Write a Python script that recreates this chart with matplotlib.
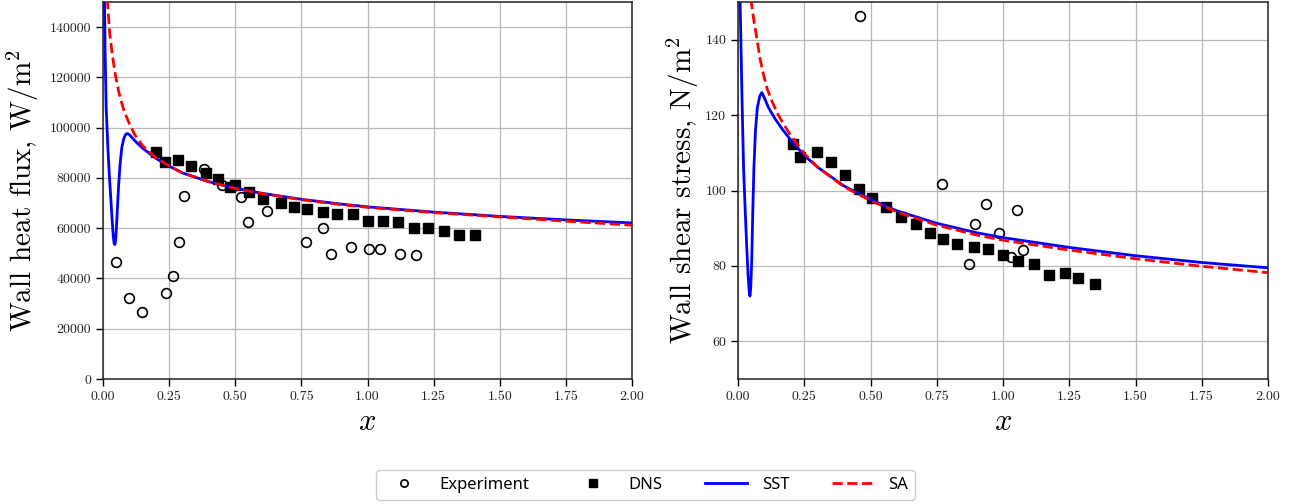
import matplotlib
matplotlib.use("Agg")
import matplotlib.pyplot as plt
from matplotlib.ticker import FixedLocator, FormatStrFormatter

plt.rcParams['font.family'] = 'serif'
plt.rcParams['font.serif'] = ['cmr10']
plt.rcParams['mathtext.fontset'] = 'cm'
plt.rcParams['axes.formatter.use_mathtext'] = True

# ---------------- Heat flux (left) ----------------
hf_exp_x = [0.048, 0.098, 0.147, 0.240, 0.263, 0.286, 0.307, 0.381, 0.450, 0.522,
            0.547, 0.619, 0.769, 0.830, 0.863, 0.936, 1.004, 1.047, 1.122, 1.185]
hf_exp_y = [46500, 32200, 26700, 34300, 40900, 54700, 73000, 83600, 77200, 72300,
            62500, 66900, 54400, 59900, 49900, 52700, 51800, 51800, 49700, 49500]

hf_dns_x = [0.200, 0.235, 0.283, 0.331, 0.388, 0.434, 0.480, 0.500, 0.552, 0.605,
            0.672, 0.721, 0.772, 0.830, 0.884, 0.945, 1.001, 1.059, 1.115, 1.175,
            1.230, 1.288, 1.346, 1.405]
hf_dns_y = [90500, 86500, 87200, 84700, 82000, 79600, 76500, 77000, 74400, 71800,
            69900, 68600, 67700, 66600, 65800, 65600, 62800, 62700, 62400, 60000,
            60000, 58700, 57300, 57300]

hf_sst_x = [0.0, 0.004, 0.008, 0.012, 0.018, 0.024, 0.030, 0.035, 0.039, 0.042,
            0.045, 0.048, 0.051, 0.055, 0.059, 0.065, 0.071, 0.078, 0.085, 0.092,
            0.100, 0.110, 0.125, 0.150, 0.200, 0.250, 0.300, 0.400, 0.500, 0.600,
            0.750, 0.900, 1.000, 1.250, 1.500, 1.750, 2.000]
hf_sst_y = [300000, 165000, 130000, 108000, 93000, 81000, 71000, 62500, 56500, 54000,
            53500, 55500, 60500, 69000, 77000, 86000, 92000, 95500, 97200, 97700,
            97200, 96000, 94300, 91800, 87800, 84700, 82000, 78500, 75900, 73900,
            71500, 69600, 68500, 66400, 64700, 63300, 62100]

hf_sa_x = [0.012, 0.017, 0.025, 0.034, 0.045, 0.060, 0.080, 0.100, 0.120, 0.150,
           0.200, 0.250, 0.300, 0.400, 0.500, 0.600, 0.750, 0.900, 1.000, 1.250,
           1.500, 1.750, 2.000]
hf_sa_y = [175000, 150000, 138000, 130000, 122000, 114000, 106500, 101500, 97200, 92800,
           88000, 84800, 82000, 78500, 75800, 73800, 71300, 69400, 68300, 66200,
           64500, 62800, 61200]

# ---------------- Shear stress (right) ----------------
ws_exp_x = [0.460, 0.771, 0.937, 1.051, 0.896, 0.984, 1.075, 1.031, 0.871]
ws_exp_y = [146.2, 101.6, 96.4, 94.8, 91.1, 88.7, 84.1, 82.4, 80.4]

ws_dns_x = [0.206, 0.235, 0.297, 0.352, 0.404, 0.458, 0.506, 0.558, 0.614, 0.670,
            0.726, 0.772, 0.828, 0.889, 0.944, 1.000, 1.057, 1.117, 1.174, 1.233,
            1.284, 1.348]
ws_dns_y = [112.3, 109.0, 110.3, 107.5, 104.0, 100.4, 98.1, 95.7, 93.1, 91.0,
            88.7, 87.1, 85.9, 85.0, 84.4, 83.0, 81.3, 80.6, 77.7, 78.0,
            76.9, 75.2]

ws_sst_x = [0.0, 0.004, 0.008, 0.015, 0.021, 0.027, 0.033, 0.038, 0.042, 0.045,
            0.048, 0.052, 0.056, 0.060, 0.066, 0.073, 0.082, 0.090, 0.100, 0.115,
            0.140, 0.170, 0.200, 0.250, 0.300, 0.400, 0.500, 0.600, 0.750, 0.900,
            1.000, 1.250, 1.500, 1.750, 2.000]
ws_sst_y = [250, 170, 150, 125, 106, 95, 85, 77.5, 73.5, 72.0,
            74.0, 82.0, 95.0, 106.0, 116.0, 122.0, 125.0, 126.0, 124.5, 122.0,
            119.0, 116.0, 113.3, 109.3, 106.2, 101.2, 97.6, 94.6, 91.3, 88.8,
            87.5, 84.9, 82.7, 80.9, 79.5]

ws_sa_x = [0.040, 0.050, 0.060, 0.071, 0.083, 0.096, 0.110, 0.128, 0.150, 0.172,
           0.200, 0.250, 0.300, 0.400, 0.500, 0.600, 0.750, 0.900, 1.000, 1.250,
           1.500, 1.750, 2.000]
ws_sa_y = [165, 150, 145, 140.4, 135, 130.8, 127, 123.7, 120.3, 117.6,
           114.5, 109.8, 106.2, 101.0, 97.3, 94.3, 90.8, 88.2, 86.8, 84.2,
           81.9, 79.9, 78.2]

x_ticks = [0.0, 0.25, 0.5, 0.75, 1.0, 1.25, 1.5, 1.75, 2.0]
hf_ticks = [0, 20000, 40000, 60000, 80000, 100000, 120000, 140000]
ws_ticks = [60, 80, 100, 120, 140]

fig = plt.figure(figsize=(12.97, 5.04), dpi=100)
axL = fig.add_axes([103 / 1297, 1 - 379 / 504, 529 / 1297, 377 / 504])
axR = fig.add_axes([738 / 1297, 1 - 379 / 504, 530 / 1297, 377 / 504])


def draw(ax, ex, ey, dx, dy, sx, sy, ax_x, ay, ylim, yticks, ylabel, pad):
    ax.plot(ex, ey, 'o', ms=7, mfc='none', mec='black', mew=1.2, ls='none',
            label='Experiment', zorder=3)
    ax.plot(dx, dy, 's', ms=7.5, color='black', ls='none', label='DNS', zorder=3)
    ax.plot(sx, sy, '-', color='blue', lw=2.0, label='SST', zorder=4)
    ax.plot(ax_x, ay, '--', color='red', lw=2.0, label='SA', zorder=5)
    ax.set_xlim(0, 2.0)
    ax.set_ylim(*ylim)
    ax.xaxis.set_major_locator(FixedLocator(x_ticks))
    ax.xaxis.set_major_formatter(FormatStrFormatter('%.2f'))
    ax.yaxis.set_major_locator(FixedLocator(yticks))
    ax.yaxis.set_major_formatter(FormatStrFormatter('%d'))
    ax.grid(True, color='#b8b8b8', lw=0.9)
    ax.set_axisbelow(True)
    ax.tick_params(axis='both', labelsize=10, length=5, width=1, direction='out',
                   labelcolor='#222222')
    for s in ax.spines.values():
        s.set_color('#222222')
        s.set_linewidth(1.1)
    ax.set_xlabel(r'$x$', fontsize=22, labelpad=4)
    ax.set_ylabel(ylabel, fontsize=21, labelpad=pad)


draw(axL, hf_exp_x, hf_exp_y, hf_dns_x, hf_dns_y, hf_sst_x, hf_sst_y,
     hf_sa_x, hf_sa_y, (0, 150000), hf_ticks, r'Wall heat flux, $\mathrm{W/m^2}$', 6)
draw(axR, ws_exp_x, ws_exp_y, ws_dns_x, ws_dns_y, ws_sst_x, ws_sst_y,
     ws_sa_x, ws_sa_y, (50, 150), ws_ticks, r'Wall shear stress, $\mathrm{N/m^2}$', 3)

handles, labels = axL.get_legend_handles_labels()
leg = fig.legend(handles, labels, loc='center', bbox_to_anchor=(0.4977, 0.038),
                 ncol=4, frameon=True, fancybox=True, edgecolor='#cccccc',
                 framealpha=1, handlelength=2.5, handletextpad=0.9,
                 columnspacing=2.55, markerscale=0.75,
                 prop={'family': 'Noto Sans', 'size': 12})

fig.savefig('out.png', dpi=100)
